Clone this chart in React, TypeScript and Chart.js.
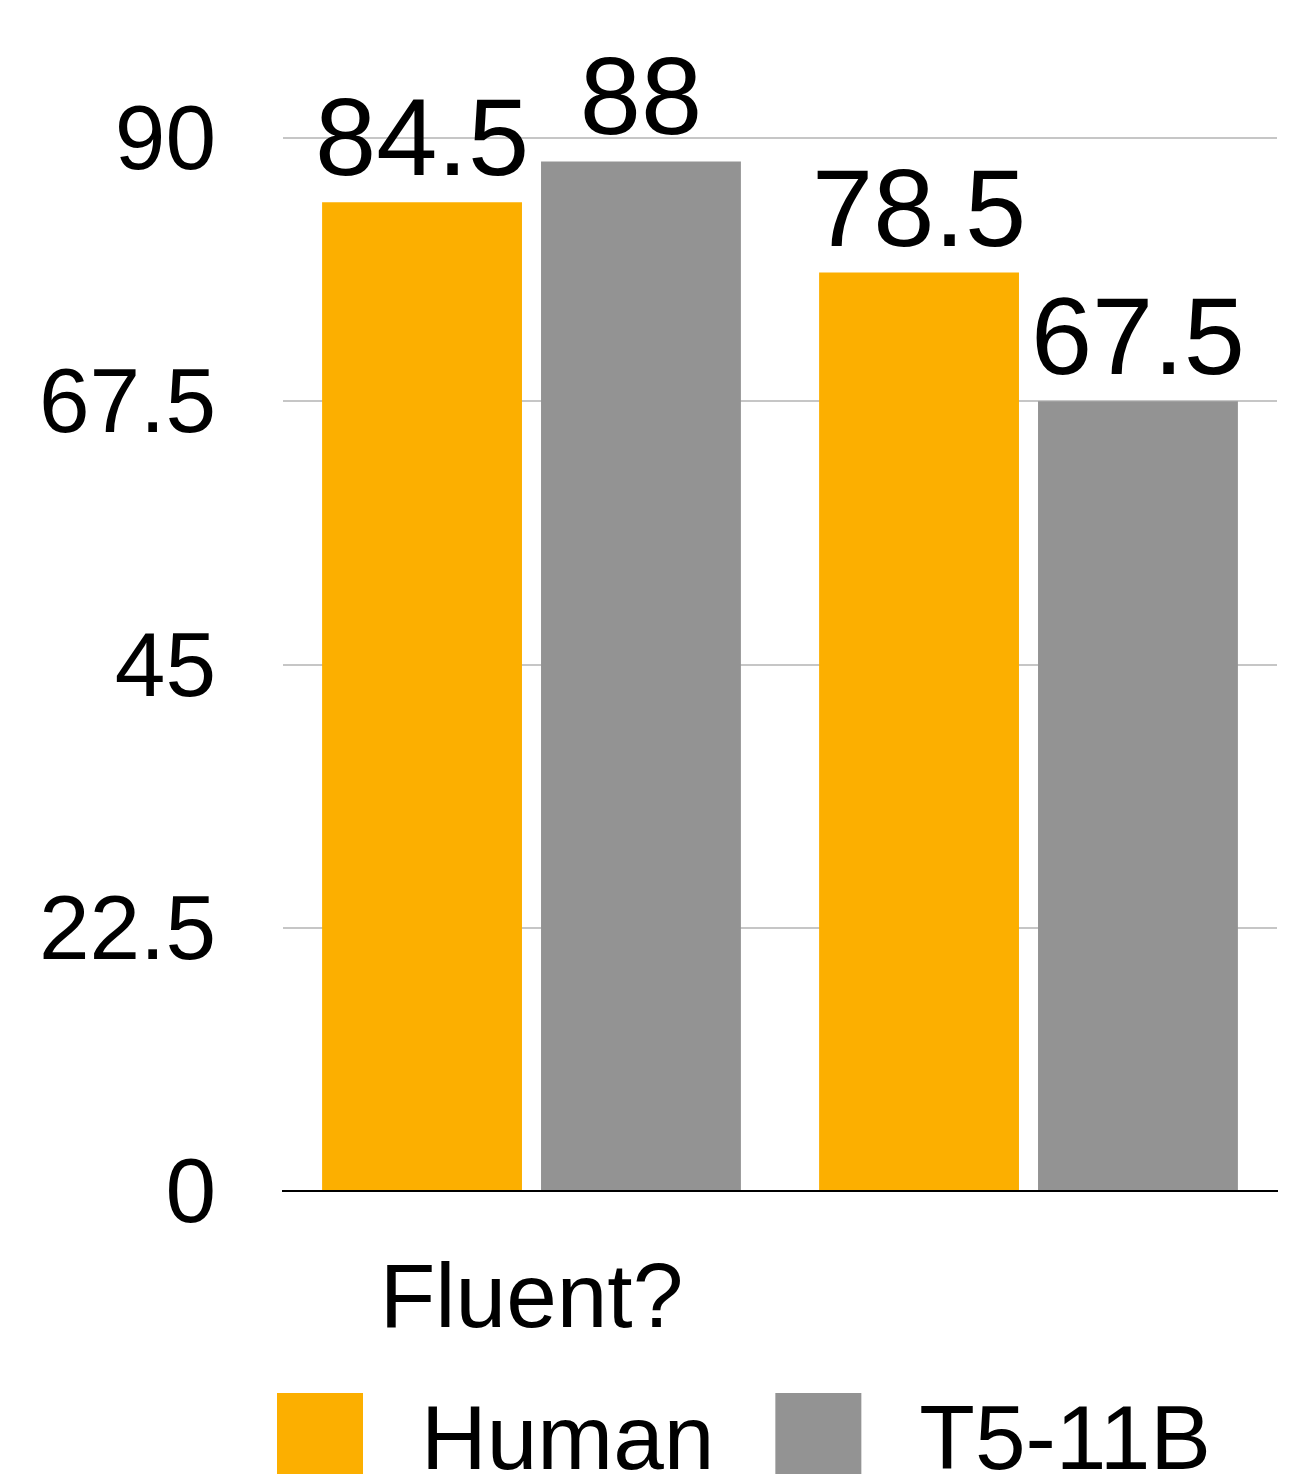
import React, { useEffect, useRef } from "react";
import { Chart, registerables } from "chart.js";

Chart.register(...registerables);

const categories = ["Fluent?", ""];
const seriesNames = ["Human", "T5-11B"];
const humanValues = [84.5, 78.5];
const t5Values = [88, 67.5];
const yTicks = [0, 22.5, 45, 67.5, 90];
const colors = ["#FCAF00", "#939393"];

const FONT = "'Liberation Sans', Arial, Helvetica, sans-serif";

const valueLabels = {
  id: "valueLabels",
  afterDatasetsDraw(chart: any) {
    const ctx = chart.ctx;
    ctx.save();
    ctx.font = `110px ${FONT}`;
    ctx.fillStyle = "#000";
    ctx.textAlign = "center";
    ctx.textBaseline = "alphabetic";
    chart.data.datasets.forEach((ds: any, di: number) => {
      const meta = chart.getDatasetMeta(di);
      meta.data.forEach((bar: any, i: number) => {
        ctx.fillText(String(ds.data[i]), bar.x, bar.y - 27);
      });
    });
    ctx.restore();
  },
};

const customLegend = {
  id: "customLegend",
  afterDraw(chart: any) {
    const ctx = chart.ctx;
    const area = chart.chartArea;
    ctx.save();
    ctx.font = `91px ${FONT}`;
    ctx.textAlign = "left";
    ctx.textBaseline = "alphabetic";
    let x = area.left - 6;
    const boxTop = area.bottom + 202;
    const baseline = area.bottom + 278;
    chart.data.datasets.forEach((ds: any) => {
      ctx.fillStyle = ds.backgroundColor;
      ctx.fillRect(x, boxTop, 86, 90);
      const tx = x + 86 + 58;
      ctx.fillStyle = "#000";
      ctx.fillText(ds.label, tx, baseline);
      x = tx + ctx.measureText(ds.label).width + 61;
    });
    ctx.restore();
  },
};

export default function App() {
  const ref = useRef<HTMLCanvasElement | null>(null);
  useEffect(() => {
    if (!ref.current) return;
    const chart = new Chart(ref.current, {
      type: "bar",
      data: {
        labels: categories,
        datasets: [
          { label: seriesNames[0], data: humanValues, backgroundColor: colors[0] },
          { label: seriesNames[1], data: t5Values, backgroundColor: colors[1] },
        ],
      },
      options: {
        animation: false,
        responsive: false,
        maintainAspectRatio: false,
        devicePixelRatio: 1,
        layout: { padding: { left: 0, right: 23, top: 138, bottom: 0 } },
        plugins: {
          legend: { display: false },
          tooltip: { enabled: false },
        },
        datasets: {
          bar: { categoryPercentage: 0.881, barPercentage: 0.913 },
        },
        scales: {
          x: {
            grid: { display: false },
            border: { display: true, color: "#000", width: 2 },
            ticks: {
              color: "#000",
              font: { family: FONT, size: 91 },
              padding: 48,
              autoSkip: false,
              maxRotation: 0,
            },
            afterFit: (s: any) => {
              s.height = 283;
            },
          },
          y: {
            min: 0,
            max: 90,
            afterBuildTicks: (s: any) => {
              s.ticks = yTicks.map((v) => ({ value: v }));
            },
            grid: { color: "#C6C6C6", lineWidth: 2, drawTicks: false },
            border: { display: false },
            ticks: {
              color: "#000",
              font: { family: FONT, size: 91 },
              padding: 67,
              labelOffset: 6,
              callback: (v: any) => String(v),
            },
            afterFit: (s: any) => {
              s.width = 283;
            },
          },
        },
      },
      plugins: [valueLabels, customLegend],
    });
    return () => chart.destroy();
  }, []);
  return (
    <div style={{ position: "absolute", left: 0, top: 0, width: 1300, height: 1474, background: "#fff" }}>
      <canvas ref={ref} width={1300} height={1474} style={{ width: 1300, height: 1474, display: "block" }} />
    </div>
  );
}
